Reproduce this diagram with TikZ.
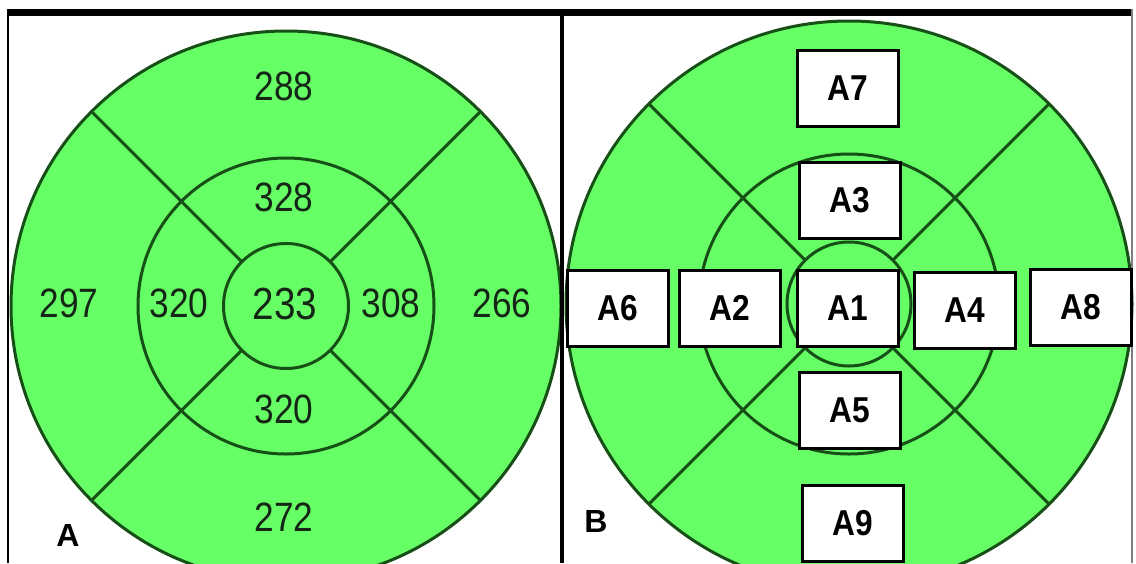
\documentclass[tikz,border=0pt]{standalone}
\usepackage{fontspec}
\setmainfont{Liberation Sans}
\definecolor{segfill}{RGB}{102,255,102}
\definecolor{segline}{RGB}{22,80,22}
\definecolor{numtext}{RGB}{22,38,22}
\begin{document}
\begin{tikzpicture}[x=1pt,y=-1pt,
  ring/.style={draw=segline, line width=3pt},
  num/.style={text=numtext, inner sep=0pt, font=\fontsize{41}{41}\selectfont},
  bignum/.style={text=numtext, inner sep=0pt, font=\fontsize{45}{45}\selectfont},
  lab/.style={draw=black, fill=white, line width=3pt, minimum width=101pt, minimum height=76pt, inner sep=0pt, font=\bfseries\fontsize{36}{36}\selectfont},
  panel/.style={inner sep=0pt, text=black, font=\bfseries\fontsize{32}{32}\selectfont}]
\useasboundingbox (0,0) rectangle (1136,563);
\fill[white] (0,0) rectangle (1136,563);
\begin{scope}
\clip (0,0) rectangle (1136,563);
% ---------- panel A ----------
\coordinate (L) at (286,306);
\fill[segfill] (L) circle[radius=275];
\draw[ring] (L) circle[radius=275];
\draw[ring] (L) circle[radius=148];
\draw[ring] (L) circle[radius=62.5];
\foreach \a in {45,135,225,315}
  \draw[ring] ([shift={(\a:62.5)}]L) -- ([shift={(\a:275)}]L);
% ---------- panel B ----------
\coordinate (R) at (849,304);
\fill[segfill] (R) circle[radius=283];
\draw[ring] (R) circle[radius=283];
\draw[ring] (R) circle[radius=150];
\draw[ring] (R) circle[radius=62];
\foreach \a in {45,135,225,315}
  \draw[ring] ([shift={(\a:62)}]R) -- ([shift={(\a:283)}]R);
\end{scope}
% ---------- frame ----------
\fill[black] (7,9) rectangle (1133,16);
\draw[black, line width=2pt] (7.5,9) -- (7.5,563);
\draw[black, line width=4pt] (562,9) -- (562,563);
\draw[gray, line width=1.5pt] (1132,9) -- (1132,563);
% ---------- numbers panel A ----------
\node[num] (n288) at (284,86) {\scalebox{0.86}[1]{288}};
\node[num] (n328) at (284,197) {\scalebox{0.86}[1]{328}};
\node[num] (n297) at (69,303) {\scalebox{0.86}[1]{297}};
\node[num] (n320a) at (179,303) {\scalebox{0.86}[1]{320}};
\node[bignum] (n233) at (285,304) {\scalebox{0.86}[1]{233}};
\node[num] (n308) at (391,303) {\scalebox{0.86}[1]{308}};
\node[num] (n266) at (502,303) {\scalebox{0.86}[1]{266}};
\node[num] (n320b) at (284,409) {\scalebox{0.86}[1]{320}};
\node[num] (n272) at (284,517) {\scalebox{0.86}[1]{272}};
\node[panel] (pA) at (68,535) {A};
% ---------- boxes panel B ----------
\node[lab] (A7) at (848,88) {\scalebox{0.88}[1]{A7}};
\node[lab] (A3) at (850,200) {\scalebox{0.88}[1]{A3}};
\node[lab] (A6) at (618,308) {\scalebox{0.88}[1]{A6}};
\node[lab] (A2) at (730,308) {\scalebox{0.88}[1]{A2}};
\node[lab] (A1) at (848,308) {\scalebox{0.88}[1]{A1}};
\node[lab] (A4) at (965,310) {\scalebox{0.88}[1]{A4}};
\node[lab] (A8) at (1081,307) {\scalebox{0.88}[1]{A8}};
\node[lab] (A5) at (850,410) {\scalebox{0.88}[1]{A5}};
\node[lab] (A9) at (853,523) {\scalebox{0.88}[1]{A9}};
\node[panel] (pB) at (596,521) {B};
\end{tikzpicture}
\end{document}
